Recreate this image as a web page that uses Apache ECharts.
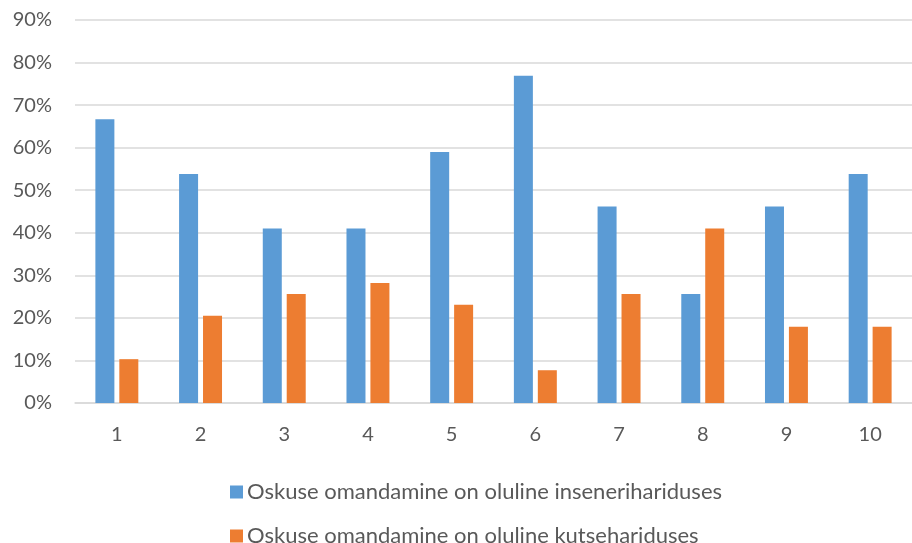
<!DOCTYPE html>
<html><head><meta charset="utf-8">
<script src="https://cdn.jsdelivr.net/npm/echarts@6/dist/echarts.min.js"></script>
<style>html,body{margin:0;padding:0;background:#fff}#c{width:912px;height:543px}</style>
</head><body><div id="c"></div>
<script>
const categories = ['1','2','3','4','5','6','7','8','9','10'];
const seriesNames = ['Oskuse omandamine on oluline insenerihariduses', 'Oskuse omandamine on oluline kutsehariduses'];
const engineering = [66.7, 53.8, 41.0, 41.0, 59.0, 76.9, 46.2, 25.6, 46.2, 53.8];
const vocational = [10.3, 20.5, 25.6, 28.2, 23.1, 7.7, 25.6, 41.0, 17.9, 17.9];
const yTicks = [0, 10, 20, 30, 40, 50, 60, 70, 80, 90];

const font = 'Lato';
const legendBase = {
  orient: 'horizontal', left: 225,
  itemWidth: 13, itemHeight: 13, icon: 'rect', itemGap: 0,
  textStyle: {fontFamily: font, fontSize: 22, color: '#595959', padding: [0, 0, 0, -1]}
};
const chart = echarts.init(document.getElementById('c'));
chart.setOption({
  animation: false,
  textStyle: {fontFamily: font},
  grid: {left: 75, right: -13, top: 20, bottom: 140, containLabel: false},
  legend: [
    Object.assign({}, legendBase, {top: 476, data: [seriesNames[0]]}),
    Object.assign({}, legendBase, {top: 520, data: [seriesNames[1]]})
  ],
  xAxis: {
    type: 'category', data: categories,
    axisLine: {lineStyle: {color: '#d9d9d9', width: 1.5}},
    axisTick: {show: false},
    axisLabel: {fontFamily: font, fontSize: 20, color: '#595959', margin: 22}
  },
  yAxis: {
    type: 'value', min: yTicks[0], max: yTicks[yTicks.length-1], interval: 10,
    axisLine: {show: false}, axisTick: {show: false},
    splitLine: {lineStyle: {color: '#d9d9d9', width: 1.5}},
    axisLabel: {fontFamily: font, fontSize: 20, color: '#595959', margin: 23, formatter: v => v + '%'}
  },
  series: [
    {name: seriesNames[0], type: 'bar', data: engineering, barWidth: 19, barGap: '26%',
     itemStyle: {color: '#5b9bd5'}},
    {name: seriesNames[1], type: 'bar', data: vocational, barWidth: 19,
     itemStyle: {color: '#ed7d31'}}
  ]
});
</script></body></html>
